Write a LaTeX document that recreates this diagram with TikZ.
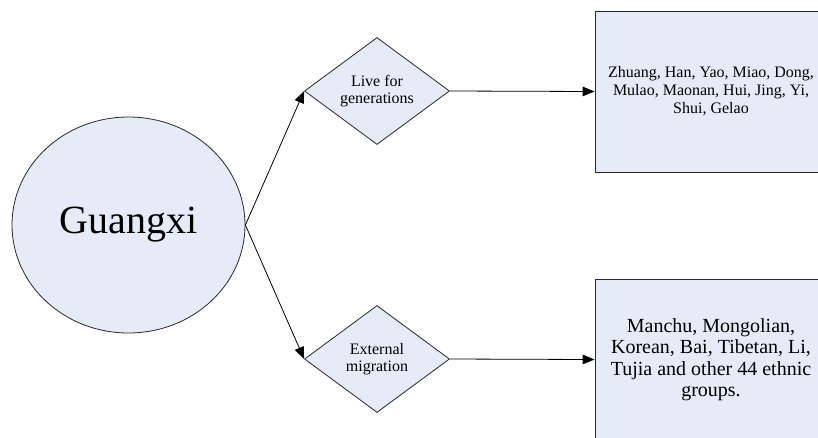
\documentclass[tikz,border=0pt]{standalone}
\usepackage{fontspec}
\setmainfont{Liberation Serif}
\usetikzlibrary{shapes.geometric,arrows.meta}
\definecolor{fillblue}{RGB}{230,236,247}
\definecolor{edgegray}{RGB}{40,40,40}
\tikzset{
  shapeline/.style={draw=edgegray, line width=0.8pt, fill=fillblue, inner sep=0pt},
  roundshape/.style={shapeline, ellipse, minimum width=233pt, minimum height=216pt,
    font=\fontsize{40}{48}\selectfont},
  decision/.style={shapeline, diamond, minimum width=145pt, minimum height=107pt,
    align=center, font=\fontsize{16}{17}\selectfont},
  groupbox/.style={shapeline, rectangle, minimum width=232pt, minimum height=161pt},
  boxtext/.style={align=center, inner sep=0pt},
  arr/.style={draw=black, line width=0.8pt, -{Triangle[length=12pt,width=9.5pt]}}
}
\begin{document}
\begin{tikzpicture}[x=1pt,y=-1pt]
\path[use as bounding box, clip] (0,0) rectangle (818,437);
\node[roundshape] (g) at (128.5,225) {Guangxi};
\node[decision] (d1) at (377,91) {Live for\\generations};
\node[decision] (d2) at (377,359) {External\\migration};
\node[groupbox] (b1) at (711,91.5) {};
\node[groupbox] (b2) at (711,359.5) {};
\node[boxtext, font=\fontsize{16}{18.2}\selectfont] (t1) at (711,91)
  {Zhuang, Han, Yao, Miao, Dong,\\Mulao, Maonan, Hui, Jing, Yi,\\Shui, Gelao};
\node[boxtext, font=\fontsize{20}{21.5}\selectfont] (t2) at (711,359.5)
  {Manchu, Mongolian,\\Korean, Bai, Tibetan, Li,\\Tujia and other 44 ethnic\\groups.};
\draw[arr] (g.east) -- (d1.west);
\draw[arr] (g.east) -- (d2.west);
\draw[arr] (d1.east) -- (b1.west);
\draw[arr] (d2.east) -- (b2.west);
\end{tikzpicture}
\end{document}
